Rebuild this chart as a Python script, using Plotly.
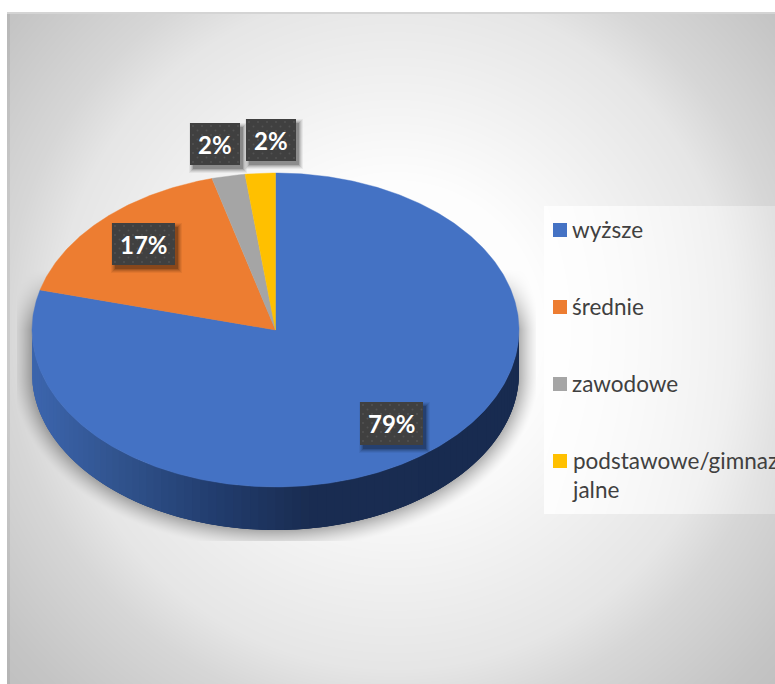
import numpy as np
import plotly.graph_objects as go

categories = ["wyższe", "średnie", "zawodowe", "podstawowe/gimnaz<br>jalne"]
values = [79.1, 16.7, 2.2, 2.0]
colors = ["#4472C4", "#ED7D31", "#A5A5A5", "#FFC000"]
label_boxes = [(360, 402, 423, 445), (112, 223, 175, 265), (190, 123, 240, 165), (246, 119, 296, 161)]

W, H = 775, 684
CX, CY, RX, RY, DEPTH = 275.5, 330.0, 243.5, 157.0, 43.0
FONT = "Lato"


def background():
    xs = np.arange(W) + 0.5
    ys = np.arange(H) + 0.5
    X, Y = np.meshgrid(xs, ys)
    d = np.hypot(X - 395, Y - 330)
    g = np.interp(d, [0, 150, 230, 340, 390, 490, 530], [255, 253, 243, 230, 215, 197, 192])
    # pie drop shadow, clipped to the chart's plot box
    dx = X - CX
    dy = Y - np.clip(Y, CY, CY + DEPTH)
    nx, ny = dx / RX, dy / RY
    r = np.maximum(np.hypot(nx, ny), 1e-6)
    grad = np.hypot(dx / RX**2, dy / RY**2) / r
    dist = (r - 1) / np.maximum(grad, 1e-6)
    fade = np.clip((Y - 270) / 60, 0, 1)
    sh = np.clip(1 - dist / 20, 0, 1) ** 1.4 * 0.3 * fade
    mask = (X > 17) & (X < 536) & (Y < 541)
    g = np.where(mask, g * (1 - sh), g)
    # translucent legend panel
    alpha = np.interp(X, [544, 775], [0.88, 0.28])
    panel = (X > 544) & (Y > 206) & (Y < 514)
    g = np.where(panel, g + (255 - g) * alpha, g)
    # frame edges and page margin
    g = np.where((X < 10) & (Y > 13), g - 12, g)
    g = np.where((Y > 12) & (Y < 14.5), 212, g)
    g = np.where((X < 7) | (Y < 12), 255, g)
    return xs, ys, np.clip(g, 0, 255).astype(np.uint8)


def lerp_color(stops, x):
    xp = [s[0] for s in stops]
    c = [np.interp(x, xp, [s[1][i] for s in stops]) for i in range(3)]
    return "rgb(%d,%d,%d)" % tuple(c)


def poly(xs, ys, color, opacity=1.0, line=0.6):
    return go.Scatter(x=list(xs), y=list(ys), mode="lines", fill="toself", fillcolor=color,
                      line=dict(color=color, width=line), opacity=opacity,
                      hoverinfo="skip", showlegend=False)


fig = go.Figure()
bx, by, bz = background()
fig.add_trace(go.Heatmap(x=bx, y=by, z=bz, zmin=0, zmax=255, showscale=False, hoverinfo="skip",
                         colorscale=[[0, "rgb(0,0,0)"], [1, "rgb(255,255,255)"]]))

# side wall (front half of the ellipse), shaded left to right; each strip overlaps the previous one
side_stops = [(32, (60, 101, 173)), (100, (50, 85, 144)), (200, (34, 61, 110)),
              (290, (26, 45, 82)), (519, (24, 43, 80))]
edges = np.linspace(np.pi / 2, 3 * np.pi / 2, 91)
step = edges[1] - edges[0]
for a0, a1 in zip(edges[:-1], edges[1:]):
    t = np.linspace(max(a0 - 2 * step, np.pi / 2), a1, 8)
    ax = CX + RX * np.sin(t)
    ay = CY - RY * np.cos(t)
    xs = np.r_[ax, ax[::-1]]
    ys = np.r_[ay, ay[::-1] + DEPTH]
    mid = CX + RX * np.sin((a0 + a1) / 2)
    fig.add_trace(poly(xs, ys, lerp_color(side_stops, mid), line=0))

# top face
start = 0.0
total = sum(values)
for v, col in zip(values, colors):
    end = start + v / total * 2 * np.pi
    t = np.linspace(start, end, max(int(v * 6), 12))
    xs = np.r_[CX, CX + RX * np.sin(t), CX]
    ys = np.r_[CY, CY - RY * np.cos(t), CY]
    fig.add_trace(poly(xs, ys, col, line=0.4))
    start = end

# data label boxes
for (x0, y0, x1, y1), v in zip(label_boxes, values):
    for grow, op in ((4, 0.05), (3, 0.07), (2, 0.09), (1, 0.12), (0, 0.18)):
        fig.add_trace(poly([x0 + 3 - grow, x1 + 3 + grow, x1 + 3 + grow, x0 + 3 - grow],
                           [y0 + 4 - grow, y0 + 4 - grow, y1 + 4 + grow, y1 + 4 + grow],
                           "#000000", opacity=op, line=0))
    fig.add_trace(poly([x0, x1, x1, x0], [y0, y0, y1, y1], "#404040", line=0))
    dx_, dy_ = [], []
    for j, yy in enumerate(np.arange(y0 + 3, y1, 4.5)):
        for xx in np.arange(x0 + 3 + (j % 2) * 4.5, x1 - 1, 9):
            dx_.append(xx)
            dy_.append(yy)
    fig.add_trace(go.Scatter(x=dx_, y=dy_, mode="markers", hoverinfo="skip", showlegend=False,
                             marker=dict(color="#525252", size=2, line=dict(width=0))))
    fig.add_annotation(x=(x0 + x1) / 2, y=(y0 + y1) / 2, text=f"{v:.0f}%", showarrow=False,
                       font=dict(family=FONT, size=24, color="#FFFFFF", weight="bold"))

# legend
legend_y = [230, 307, 384, 461]
for c, col, ly in zip(categories, colors, legend_y):
    fig.add_trace(poly([553, 567, 567, 553], [ly - 7, ly - 7, ly + 7, ly + 7], col, line=0))
    fig.add_annotation(x=570, y=ly - 1, text=c, showarrow=False, xanchor="left",
                       yanchor="top" if "<br>" in c else "middle", yshift=15 if "<br>" in c else 0,
                       align="left", font=dict(family=FONT, size=22.5, color="#404040"))

fig.update_layout(
    width=W, height=H, margin=dict(l=0, r=0, t=0, b=0), paper_bgcolor="white",
    plot_bgcolor="white", showlegend=False,
    xaxis=dict(range=[0, W], visible=False, fixedrange=True),
    yaxis=dict(range=[H, 0], visible=False, fixedrange=True),
)
fig.write_html("out.html", config={"displayModeBar": False},
               post_script="document.body.style.margin='0';document.body.style.overflow='hidden';")
